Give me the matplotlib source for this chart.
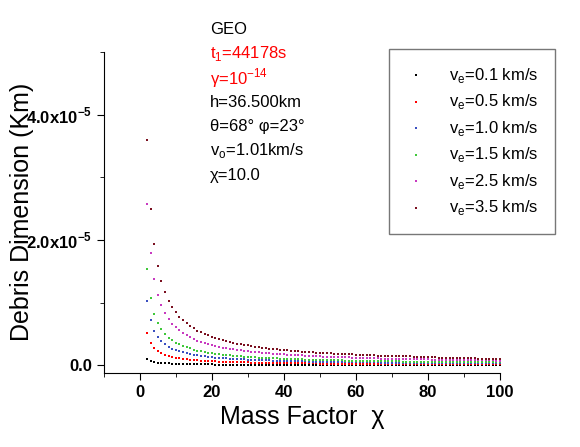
import matplotlib
matplotlib.use("Agg")
import matplotlib.pyplot as plt
from matplotlib.ticker import MultipleLocator, FixedLocator

chi = list(range(2, 101))
shape = [1.000, 0.694, 0.536, 0.438, 0.372, 0.324, 0.287, 0.258, 0.235, 0.216,
         0.200, 0.186, 0.174, 0.163, 0.153, 0.146, 0.138, 0.132, 0.125,
         0.120, 0.116, 0.110, 0.107, 0.102, 0.099, 0.096, 0.093, 0.090, 0.088,
         0.084, 0.083, 0.080, 0.078, 0.076, 0.074, 0.072, 0.071, 0.069, 0.067,
         0.066, 0.064, 0.064, 0.062, 0.061, 0.059, 0.058, 0.058, 0.056, 0.055,
         0.054, 0.054, 0.053, 0.051, 0.050, 0.050, 0.049, 0.049, 0.048, 0.047,
         0.046, 0.046, 0.045, 0.044, 0.044, 0.043, 0.042, 0.042, 0.042, 0.041,
         0.040, 0.040, 0.039, 0.039, 0.039, 0.038, 0.038, 0.037, 0.037, 0.036,
         0.035, 0.035, 0.034, 0.034, 0.034, 0.034, 0.033, 0.033, 0.033, 0.032,
         0.032, 0.031, 0.031, 0.030, 0.030, 0.030, 0.030, 0.030, 0.029, 0.029]
labels = ["0.1", "0.5", "1.0", "1.5", "2.5", "3.5"]
peaks = [0.10e-5, 0.51e-5, 1.03e-5, 1.54e-5, 2.57e-5, 3.60e-5]
colors = ["black", "red", "#3a4fc0", "#3fc83a", "#c83ac0", "#7a1020"]

plt.rcParams['font.family'] = ['Liberation Sans', 'DejaVu Sans']
fig = plt.figure(figsize=(5.8, 4.47), dpi=100)
ax = fig.add_axes([0.179, 0.166, 0.683, 0.718])
for lab, p, c in zip(labels, peaks, colors):
    ax.scatter(chi, [p * s for s in shape], s=4, marker='s', color=c, linewidths=0,
               label=r"v$_\mathregular{e}$=" + lab + " km/s")
ax.set_xlim(-10, 100)
ax.set_ylim(-0.12e-5, 5.0e-5)
for s in ['top', 'right']:
    ax.spines[s].set_visible(False)
ax.xaxis.set_major_locator(FixedLocator([0, 20, 40, 60, 80, 100]))
ax.xaxis.set_minor_locator(MultipleLocator(10))
ax.yaxis.set_major_locator(FixedLocator([0, 2e-5, 4e-5]))
ax.yaxis.set_minor_locator(FixedLocator([1e-5, 3e-5, 5e-5]))
ax.set_yticklabels(["0.0", r"2.0x10$^\mathregular{-5}$", r"4.0x10$^\mathregular{-5}$"])
ax.tick_params(which='both', direction='out', labelsize=12)
ax.tick_params(which='major', length=5)
ax.tick_params(which='minor', length=3)
for t in ax.get_xticklabels() + ax.get_yticklabels():
    t.set_fontweight('bold')
ax.set_xlabel("Mass Factor  χ", fontsize=18)
ax.set_ylabel("Debris Dimension (Km)", fontsize=18)
ax.yaxis.set_label_coords(-0.175, 0.5)

leg = ax.legend(loc='upper left', bbox_to_anchor=(0.70, 1.035), frameon=True, fancybox=False,
                edgecolor='#555555', fontsize=12, markerscale=1.0, handletextpad=1.4,
                labelspacing=0.45, borderpad=1.0, handlelength=1.2)

texts = [("GEO", "black"), (r"t$_\mathregular{1}$=44178s", "red"),
         (r"γ=10$^\mathregular{-14}$", "red"), ("h=36.500km", "black"),
         ("θ=68° φ=23°", "black"), (r"v$_\mathregular{o}$=1.01km/s", "black"),
         ("χ=10.0", "black")]
y0 = 0.935
for i, (t, c) in enumerate(texts):
    fig.text(0.362, y0 - i * 0.0545, t, color=c, fontsize=12, va='center')

fig.savefig("out.png", dpi=100)
